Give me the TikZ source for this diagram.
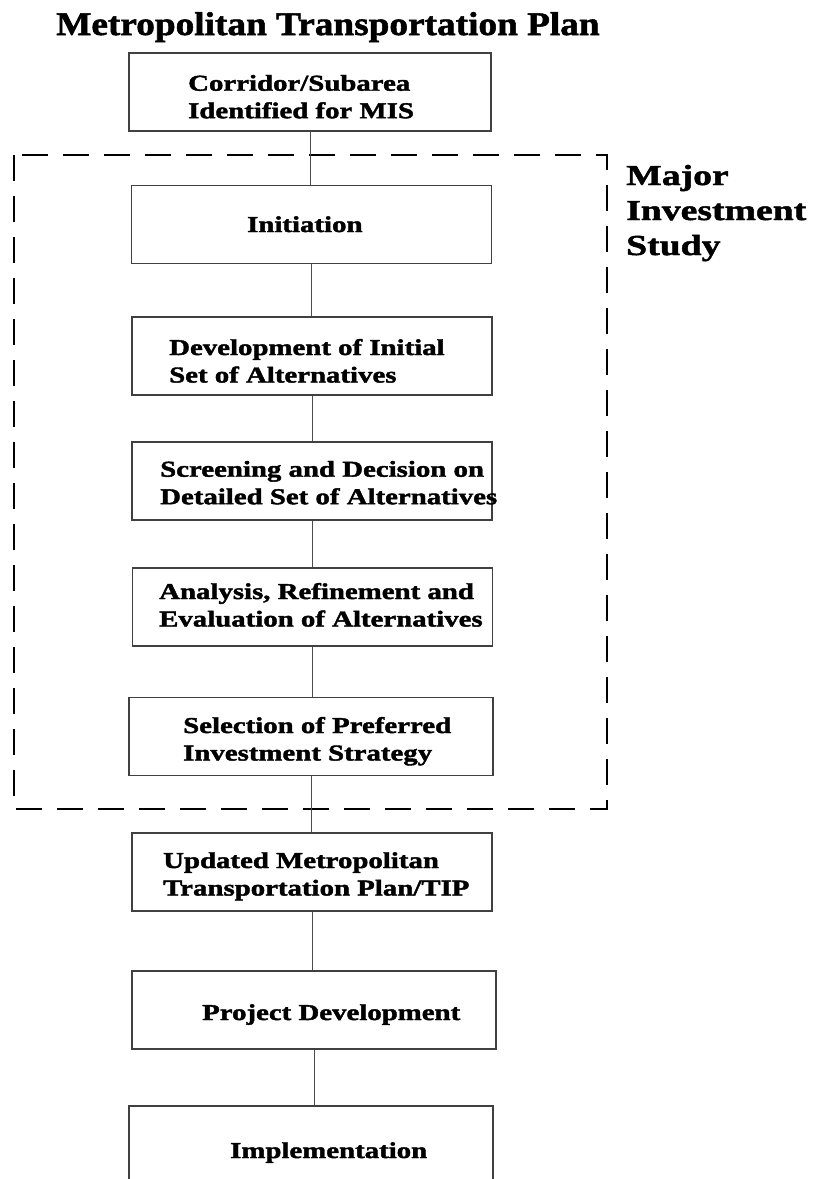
\documentclass[tikz,border=0pt]{standalone}
\usepackage{fontspec}
\usepackage{tikz}
\newfontfamily\titlefont{Liberation Serif}[FakeStretch=1.13,FakeBold=1.6]
\newfontfamily\boxfont{Liberation Serif}[FakeStretch=1.27,FakeBold=1.8]
\newfontfamily\sidefont{Liberation Serif}[FakeStretch=1.30,FakeBold=1.6]
\newcommand{\linestack}[1]{\vtop{\halign{##\hfil\cr#1\crcr}}}
\tikzset{
  stage/.style={draw=black!75, line width=1.1pt, minimum width=#1,
    minimum height=78pt, inner sep=0pt},
  stage/.default=360pt,
  stagetext/.style={anchor=base west, inner sep=0pt,
    font=\boxfont\bfseries\fontsize{22.7}{27.5}\selectfont},
  link/.style={draw=black!70, line width=1pt},
  misframe/.style={draw=black, line width=1.8pt, dash pattern=on 26pt off 15pt}
}
\begin{document}
\begin{tikzpicture}[x=1pt,y=-1pt]
\useasboundingbox (0,0) rectangle (814,1179);
\clip (0,0) rectangle (814,1179);
% heading
\node[anchor=base west, inner sep=0pt,
  font=\titlefont\bfseries\fontsize{33}{40}\selectfont] (plan) at (56,35)
  {Metropolitan Transportation Plan};
% the study frame
\draw[misframe] (14,155) rectangle (607,809);
\node[anchor=base west, inner sep=0pt,
  font=\sidefont\bfseries\fontsize{29}{35}\selectfont] (mis) at (626,185)
  {\linestack{Major\cr Investment\cr Study}};
% stages
\node[stage=362pt] (corridor) at (310,92) {};
\node[stagetext] (corridortext) at (188,90.7)
  {\linestack{Corridor/Subarea\cr Identified for MIS}};
\node[stage] (initiation) at (311.5,224.5) {};
\node[stagetext] (initiationtext) at (247,232) {Initiation};
\node[stage] (initial) at (312,356) {};
\node[stagetext] (initialtext) at (169,355)
  {\linestack{Development of Initial\cr Set of Alternatives}};
\node[stage] (screening) at (312,481) {};
\node[stagetext] (screeningtext) at (160,476.7)
  {\linestack{Screening and Decision on\cr Detailed Set of Alternatives}};
\node[stage] (analysis) at (312.5,607) {};
\node[stagetext] (analysistext) at (159,599)
  {\linestack{Analysis, Refinement and\cr Evaluation of Alternatives}};
\node[stage=364pt] (selection) at (311,736.5) {};
\node[stagetext] (selectiontext) at (183,733)
  {\linestack{Selection of Preferred\cr Investment Strategy}};
\node[stage] (updated) at (312,872) {};
\node[stagetext] (updatedtext) at (163,868)
  {\linestack{Updated Metropolitan\cr Transportation Plan/TIP}};
\node[stage=364pt] (project) at (314,1010) {};
\node[stagetext] (projecttext) at (202,1020) {Project Development};
\node[stage=364pt] (implementation) at (311,1145) {};
\node[stagetext] (implementationtext) at (230,1158) {Implementation};
% connectors
\draw[link] (corridor.south) -- (corridor.south |- initiation.north);
\draw[link] (initiation.south) -- (initiation.south |- initial.north);
\draw[link] (initial.south) -- (initial.south |- screening.north);
\draw[link] (screening.south) -- (screening.south |- analysis.north);
\draw[link] (analysis.south) -- (analysis.south |- selection.north);
\draw[link] (selection.south) -- (selection.south |- updated.north);
\draw[link] (updated.south) -- (updated.south |- project.north);
\draw[link] (project.south) -- (project.south |- implementation.north);
\end{tikzpicture}
\end{document}
